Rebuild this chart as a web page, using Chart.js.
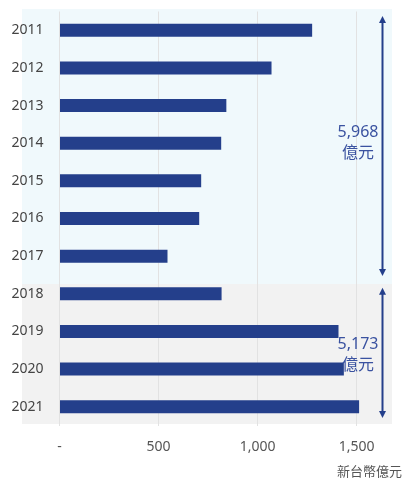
<!DOCTYPE html>
<html>
<head>
<meta charset="utf-8">
<script src="https://cdn.jsdelivr.net/npm/chart.js@4"></script>
<style>
  html, body { margin: 0; padding: 0; background: #fff; }
  #wrap { width: 410px; height: 488px; position: relative; }
</style>
</head>
<body>
<div id="wrap"><canvas id="myChart"></canvas></div>
<script>
// years down the y-axis
var years = ['2011', '2012', '2013', '2014', '2015', '2016', '2017', '2018', '2019', '2020', '2021'];
// values in 新台幣億元
var amounts = [1275, 1070, 842, 816, 715, 705, 545, 818, 1408, 1435, 1512];
// x-axis ticks
var xTicks = [0, 500, 1000, 1500];
// group totals shown next to the arrows
var groupTotals = ['5,968', '5,173'];
var unitLabel = '新台幣億元';
var groupUnit = '億元';

var fontFamily = '"Noto Sans", "Noto Sans CJK TC", sans-serif';
var barColor = '#243f8b';

// background bands, group arrows and labels
var decorations = {
  id: 'decorations',
  beforeDraw: function(chart) {
    var c = chart.ctx, a = chart.chartArea, y = chart.scales.y;
    var top = a.top - 2.5, bottom = a.bottom - 1.5;
    var split = y.getPixelForValue(6.74);
    c.save();
    c.fillStyle = '#f0f9fc';
    c.fillRect(a.left - 37.5, top, a.right - a.left + 37.5, split - top);
    c.fillStyle = '#f2f2f2';
    c.fillRect(a.left - 37.5, split, a.right - a.left + 37.5, bottom - split);
    c.restore();
  },
  afterDraw: function(chart) {
    var c = chart.ctx, a = chart.chartArea, y = chart.scales.y;
    var ax = a.right - 9.5;
    function arrow(y1, y2) {
      c.strokeStyle = barColor;
      c.fillStyle = barColor;
      c.lineWidth = 2;
      c.beginPath();
      c.moveTo(ax, y1 + 5);
      c.lineTo(ax, y2 - 5);
      c.stroke();
      c.beginPath();
      c.moveTo(ax, y1); c.lineTo(ax - 3.5, y1 + 7); c.lineTo(ax + 3.5, y1 + 7); c.closePath();
      c.fill();
      c.beginPath();
      c.moveTo(ax, y2); c.lineTo(ax - 3.5, y2 - 7); c.lineTo(ax + 3.5, y2 - 7); c.closePath();
      c.fill();
    }
    c.save();
    arrow(y.getPixelForValue(-0.38), y.getPixelForValue(6.53));
    arrow(y.getPixelForValue(6.84), y.getPixelForValue(10.3));

    c.fillStyle = '#3a52a0';
    c.font = '16px ' + fontFamily;
    c.textAlign = 'center';
    c.textBaseline = 'middle';
    var tx = a.right - 34;
    var t1 = y.getPixelForValue(2.72), t2 = y.getPixelForValue(8.35);
    c.fillText(groupTotals[0], tx, t1);
    c.fillText(groupUnit, tx, t1 + 21);
    c.fillText(groupTotals[1], tx, t2);
    c.fillText(groupUnit, tx, t2 + 21);

    c.fillStyle = '#555';
    c.font = '13px ' + fontFamily;
    c.textAlign = 'right';
    c.fillText(unitLabel, chart.width - 8, 472);
    c.restore();
  }
};

var ctx = document.getElementById('myChart');
var myChart = new Chart(ctx, {
  type: 'bar',
  data: {
    labels: years,
    datasets: [{
      data: amounts,
      backgroundColor: barColor,
      barPercentage: 0.345,
      categoryPercentage: 1
    }]
  },
  options: {
    indexAxis: 'y',
    responsive: true,
    maintainAspectRatio: false,
    animation: false,
    layout: { padding: { top: 11.5, right: 18, bottom: 0, left: 0 } },
    plugins: {
      legend: { display: false },
      tooltip: { enabled: false }
    },
    scales: {
      x: {
        min: 0,
        max: 1678,
        afterBuildTicks: function(scale) {
          scale.ticks = xTicks.map(function(v) { return { value: v }; });
        },
        afterFit: function(scale) {
          scale.height = 62.5;
          scale.paddingLeft = 0;
          scale.paddingRight = 0;
        },
        grid: { color: '#e2e2e2', drawTicks: false },
        border: { display: false },
        ticks: {
          padding: 13.5,
          color: '#555',
          font: { family: fontFamily, size: 14 },
          callback: function(v) { return v === 0 ? '-' : v.toLocaleString('en-US'); }
        }
      },
      y: {
        afterFit: function(scale) {
          scale.width = 59.5;
          scale.paddingTop = 0;
          scale.paddingBottom = 0;
        },
        grid: { display: false, drawTicks: false },
        border: { display: false },
        ticks: {
          padding: 16,
          color: '#444',
          font: { family: fontFamily, size: 14 }
        }
      }
    }
  },
  plugins: [decorations]
});
</script>
</body>
</html>
